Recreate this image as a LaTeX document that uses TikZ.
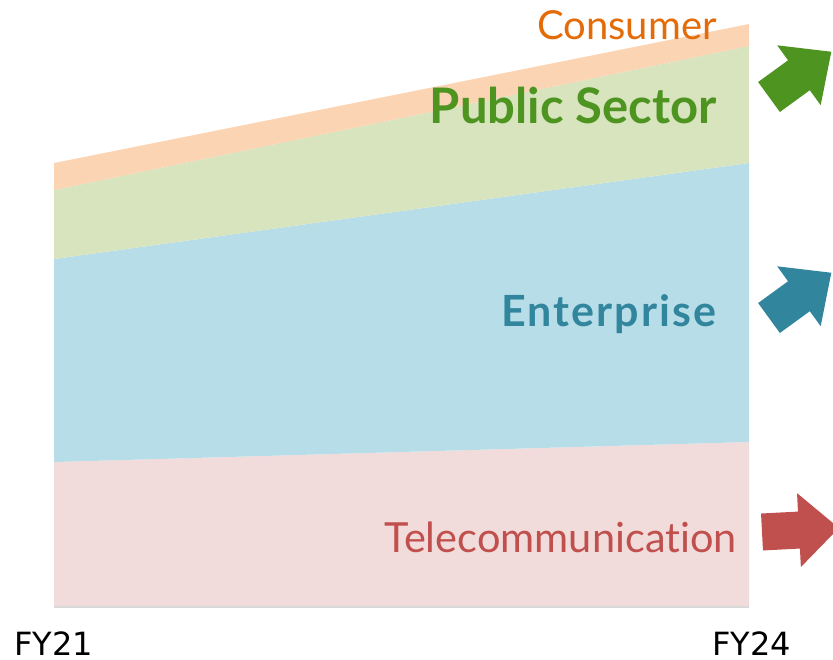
\documentclass[tikz,border=0pt]{standalone}
\usepackage{fontspec}
\setmainfont{Lato}[Ligatures=NoCommon]
\newfontfamily\axisfont{DejaVu Sans}
\usepackage{tikz}
\definecolor{consumerband}{HTML}{FBD4B4}
\definecolor{publicband}{HTML}{D7E4BD}
\definecolor{enterband}{HTML}{B7DDE8}
\definecolor{telband}{HTML}{F2DCDB}
\definecolor{consumertext}{HTML}{E36C09}
\definecolor{publictext}{HTML}{4E9421}
\definecolor{entertext}{HTML}{31859C}
\definecolor{teltext}{HTML}{C0504D}
\definecolor{axisgray}{HTML}{D9D9D9}

\begin{document}
\begin{tikzpicture}[x=1pt, y=-1pt,
    band/.style={fill=#1, draw=none},
    label/.style={anchor=base east, inner sep=0pt, text=#1},
    yearlabel/.style={anchor=base west, inner sep=0pt, font=\axisfont\fontsize{32}{32}\selectfont},
    growth/.style={fill=#1, draw=none}
]
\useasboundingbox (0,0) rectangle (833,659);

% stacked areas
\fill[band=telband] (54,462) -- (749,442) -- (749,607) -- (54,607) -- cycle;
\fill[band=enterband] (54,259) -- (749,163) -- (749,442) -- (54,462) -- cycle;
\fill[band=publicband] (54,190) -- (749,46) -- (749,163) -- (54,259) -- cycle;
\fill[band=consumerband] (54,163) -- (749,24) -- (749,46) -- (54,190) -- cycle;
\draw[axisgray, line width=2pt] (54,607) -- (749,607);

% segment labels
\node[label=consumertext, font=\fontsize{40}{40}\selectfont] (consumer) at (717,39) {Consumer};
\node[label=publictext, font=\bfseries\fontsize{49}{49}\selectfont] (public) at (717,123) {Public Sector};
\node[label=entertext, font=\bfseries\fontsize{43}{43}\selectfont\addfontfeatures{LetterSpace=5}] (enterprise) at (717,326) {Enterprise};
\node[label=teltext, font=\fontsize{41.5}{41.5}\selectfont] (telecom) at (737,552) {Telecommunication};

% axis
\node[yearlabel] (fy21) at (14,655) {FY21};
\node[yearlabel] (fy24) at (712,655) {FY24};

% growth arrows
\foreach \cx/\cy/\ang/\col in {769/97/36/publictext, 769/318/36/entertext, 762/532/3/teltext}{
  \begin{scope}[shift={(\cx,\cy)}, rotate=\ang]
    \fill[growth=\col] (0,-18.5) -- (37,-18.5) -- (37,-37) -- (77,0) -- (37,37) -- (37,18.5) -- (0,18.5) -- cycle;
  \end{scope}
}
\end{tikzpicture}
\end{document}
